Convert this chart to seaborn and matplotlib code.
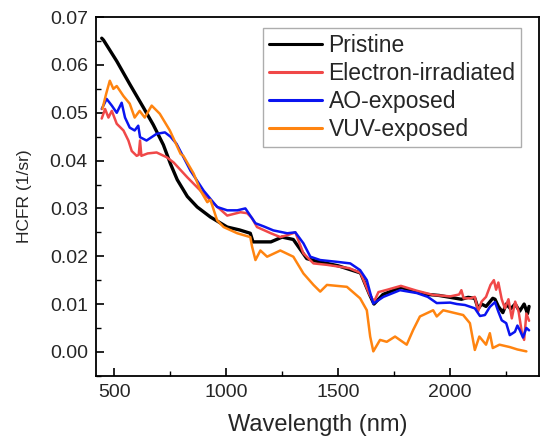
import numpy as np
import pandas as pd
import matplotlib
matplotlib.use("Agg")
import matplotlib.pyplot as plt
import seaborn as sns

series_names = ["Pristine", "Electron-irradiated", "AO-exposed", "VUV-exposed"]
series_colors = ["#000000", "#f04848", "#0a14f0", "#ff8410"]

pristine_wl = [445, 453, 512, 570, 631, 675, 720, 752, 782, 827, 871, 930, 1005, 1060, 1108,
               1120, 1200, 1250, 1300, 1330, 1360, 1400, 1500, 1600, 1640, 1660, 1700, 1780, 1850,
               1900, 1950, 2000, 2050, 2080, 2110, 2125, 2140, 2160, 2190, 2200, 2215, 2235, 2250,
               2270, 2290, 2310, 2330, 2345, 2352]
pristine_val = [0.0656, 0.0652, 0.0608, 0.0560, 0.0511, 0.0475, 0.0433, 0.0393, 0.0360, 0.0325,
                0.0303, 0.0282, 0.0261, 0.0255, 0.0248, 0.0230, 0.0230, 0.0240, 0.0235, 0.0215,
                0.0195, 0.0190, 0.0180, 0.0165, 0.0120, 0.0100, 0.0120, 0.0135, 0.0125, 0.0120,
                0.0118, 0.0114, 0.0110, 0.0114, 0.0112, 0.0090, 0.0100, 0.0095, 0.0112, 0.0110,
                0.0095, 0.0082, 0.0100, 0.0090, 0.0100, 0.0085, 0.0100, 0.0080, 0.0095]

electron_wl = [445, 460, 475, 490, 512, 542, 564, 579, 601, 610, 616, 622, 650, 690, 735, 766, 827,
               886, 945, 1005, 1064, 1094, 1115, 1138, 1200, 1242, 1280, 1309, 1345, 1390, 1450,
               1550, 1600, 1640, 1660, 1680, 1720, 1780, 1850, 1924, 1950, 2000, 2040, 2050, 2060,
               2090, 2110, 2125, 2140, 2160, 2180, 2195, 2205, 2215, 2230, 2244, 2260, 2275, 2290,
               2305, 2320, 2330, 2340, 2352]
electron_val = [0.0488, 0.0508, 0.0490, 0.0504, 0.0477, 0.0463, 0.0442, 0.0420, 0.0410, 0.0412,
                0.0442, 0.0410, 0.0415, 0.0417, 0.0407, 0.0396, 0.0365, 0.0337, 0.0310, 0.0285,
                0.0292, 0.0290, 0.0280, 0.0261, 0.0248, 0.0240, 0.0245, 0.0250, 0.0206, 0.0185,
                0.0182, 0.0175, 0.0165, 0.0120, 0.0105, 0.0125, 0.0130, 0.0138, 0.0128, 0.0119,
                0.0118, 0.0116, 0.0120, 0.0129, 0.0112, 0.0112, 0.0115, 0.0085, 0.0105, 0.0115,
                0.0140, 0.0150, 0.0130, 0.0145, 0.0110, 0.0091, 0.0110, 0.0070, 0.0105, 0.0085,
                0.0040, 0.0025, 0.0080, 0.0065]

ao_wl = [445, 467, 490, 512, 534, 549, 570, 592, 608, 616, 645, 690, 727, 752, 779, 841, 900, 960,
         1005, 1050, 1086, 1131, 1170, 1211, 1273, 1309, 1345, 1376, 1420, 1500, 1554, 1598, 1628,
         1645, 1657, 1702, 1776, 1851, 1900, 1940, 2000, 2030, 2066, 2110, 2133, 2155, 2177, 2200,
         2215, 2230, 2250, 2266, 2289, 2300, 2311, 2325, 2340, 2352]
ao_val = [0.0508, 0.0529, 0.0515, 0.0500, 0.0521, 0.0490, 0.0469, 0.0463, 0.0473, 0.0449, 0.0442,
          0.0456, 0.0459, 0.0450, 0.0435, 0.0379, 0.0337, 0.0303, 0.0296, 0.0296, 0.0300, 0.0269,
          0.0262, 0.0254, 0.0248, 0.0250, 0.0227, 0.0199, 0.0192, 0.0188, 0.0185, 0.0171, 0.0150,
          0.0120, 0.0101, 0.0115, 0.0129, 0.0123, 0.0115, 0.0102, 0.0103, 0.0100, 0.0098, 0.0091,
          0.0075, 0.0077, 0.0094, 0.0104, 0.0084, 0.0066, 0.0060, 0.0035, 0.0042, 0.0055, 0.0045,
          0.0030, 0.0050, 0.0045]

vuv_wl = [448, 465, 481, 497, 512, 542, 570, 592, 614, 637, 668, 704, 749, 797, 809, 855, 886,
          916, 930, 960, 989, 1050, 1108, 1116, 1131, 1153, 1183, 1242, 1300, 1345, 1390, 1420,
          1450, 1539, 1598, 1628, 1643, 1657, 1687, 1717, 1754, 1806, 1835, 1865, 1924, 1940, 1969,
          2058, 2088, 2110, 2130, 2160, 2177, 2190, 2220, 2266, 2300, 2340]
vuv_val = [0.0508, 0.0540, 0.0567, 0.0550, 0.0556, 0.0535, 0.0519, 0.0490, 0.0504, 0.0490, 0.0515,
           0.0498, 0.0463, 0.0414, 0.0410, 0.0373, 0.0337, 0.0313, 0.0318, 0.0275, 0.0261, 0.0248,
           0.0240, 0.0220, 0.0192, 0.0212, 0.0199, 0.0212, 0.0199, 0.0164, 0.0140, 0.0126, 0.0140,
           0.0136, 0.0112, 0.0087, 0.0032, 0.0001, 0.0025, 0.0021, 0.0032, 0.0015, 0.0046, 0.0074,
           0.0087, 0.0074, 0.0087, 0.0077, 0.0060, 0.0004, 0.0032, 0.0015, 0.0039, 0.0008, 0.0015,
           0.0010, 0.0005, 0.0001]

x_ticks = [500, 1000, 1500, 2000]
y_ticks = [0.00, 0.01, 0.02, 0.03, 0.04, 0.05, 0.06, 0.07]

frames = []
for name, wl, val in [(series_names[0], pristine_wl, pristine_val),
                      (series_names[1], electron_wl, electron_val),
                      (series_names[2], ao_wl, ao_val),
                      (series_names[3], vuv_wl, vuv_val)]:
    frames.append(pd.DataFrame({"Wavelength": wl, "HCFR": val, "Sample": name}))
df = pd.concat(frames, ignore_index=True)

sns.set_style("white")
plt.rcParams["font.family"] = ["Liberation Sans", "DejaVu Sans"]
plt.rcParams["xtick.direction"] = "in"
plt.rcParams["ytick.direction"] = "in"

fig = plt.figure(figsize=(5.4, 4.4), dpi=100)
ax = fig.add_axes([0.178, 0.146, 0.820, 0.815])

palette = dict(zip(series_names, series_colors))
widths = {series_names[0]: 2.4, series_names[1]: 1.8, series_names[2]: 1.8, series_names[3]: 1.8}
for name in series_names:
    sub = df[df["Sample"] == name]
    sns.lineplot(data=sub, x="Wavelength", y="HCFR", color=palette[name], lw=widths[name],
                 ax=ax, label=name, estimator=None, sort=True)

ax.set_xlim(420, 2396)
ax.set_ylim(-0.005, 0.07)
ax.set_xticks(x_ticks)
ax.set_yticks(y_ticks)
ax.set_yticklabels([f"{v:.2f}" for v in y_ticks])
ax.set_xticks([750, 1250, 1750, 2250], minor=True)
ax.set_yticks([-0.005, 0.005, 0.015, 0.025, 0.035, 0.045, 0.055, 0.065], minor=True)
ax.tick_params(axis="both", which="major", length=6, width=1.2, labelsize=14, color="black",
               pad=6, bottom=True, left=True, top=False, right=False)
ax.tick_params(axis="both", which="minor", length=3.5, width=1.0, color="black",
               bottom=True, left=True, top=False, right=False)
for s in ax.spines.values():
    s.set_visible(True)
    s.set_color("black")
    s.set_linewidth(1.3)

ax.set_xlabel("Wavelength (nm)", fontsize=17, labelpad=9)
ax.set_ylabel("HCFR (1/sr)", fontsize=12.5, labelpad=13)

leg = ax.legend(loc="upper right", bbox_to_anchor=(0.96, 0.97), borderaxespad=0,
                fontsize=16.5, frameon=True, fancybox=False, edgecolor="#999999",
                labelspacing=0.22, borderpad=0.25, handlelength=2.3, handletextpad=0.3)
leg.get_frame().set_linewidth(1.0)
for line in leg.get_lines():
    line.set_linewidth(2.2)

fig.savefig("out.png", dpi=100)
